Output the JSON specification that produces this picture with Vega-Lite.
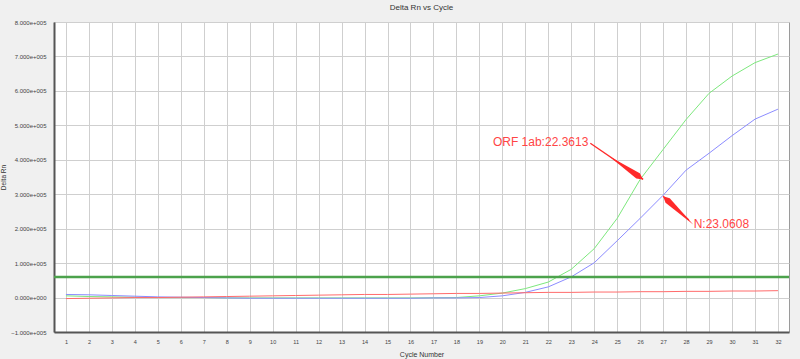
{
  "$schema": "https://vega.github.io/schema/vega-lite/v6.json",
  "width": 735,
  "height": 310,
  "autosize": {"type": "none"},
  "padding": {"left": 54, "top": 22, "right": 11, "bottom": 27},
  "background": "#f0f0f0",
  "title": {"text": "Delta Rn vs Cycle", "fontSize": 8, "font": "Liberation Sans", "fontWeight": "normal", "color": "#333333", "offset": 7, "anchor": "middle"},
  "config": {
    "view": {"fill": "white", "stroke": "#9a9a9a", "strokeWidth": 1},
    "axis": {"gridColor": "#cfcfcf", "gridWidth": 1, "gridOpacity": 1, "ticks": false, "domainColor": "#555555", "domainWidth": 2, "labelFont": "Liberation Sans", "labelColor": "#444444", "titleFont": "Liberation Sans", "titleColor": "#333333", "titleFontWeight": "normal", "labelOverlap": false, "labelFlush": false, "labelBound": false},
    "axisX": {"labelFontSize": 5.5, "labelPadding": 7, "titleFontSize": 7, "titlePadding": 6},
    "axisY": {"labelFontSize": 6, "labelPadding": 8, "titleFontSize": 6.5, "titlePadding": 4}
  },
  "datasets": {
    "curves": [
      {"cycle": 1, "series": "ORF1ab", "rn": 5000}, {"cycle": 2, "series": "ORF1ab", "rn": 3000}, {"cycle": 3, "series": "ORF1ab", "rn": 2000}, {"cycle": 4, "series": "ORF1ab", "rn": 1000},
      {"cycle": 5, "series": "ORF1ab", "rn": 0}, {"cycle": 6, "series": "ORF1ab", "rn": 0}, {"cycle": 7, "series": "ORF1ab", "rn": 0}, {"cycle": 8, "series": "ORF1ab", "rn": -1000},
      {"cycle": 9, "series": "ORF1ab", "rn": -1000}, {"cycle": 10, "series": "ORF1ab", "rn": -1000}, {"cycle": 11, "series": "ORF1ab", "rn": -1000}, {"cycle": 12, "series": "ORF1ab", "rn": -1000},
      {"cycle": 13, "series": "ORF1ab", "rn": -1000}, {"cycle": 14, "series": "ORF1ab", "rn": -1000}, {"cycle": 15, "series": "ORF1ab", "rn": -1000}, {"cycle": 16, "series": "ORF1ab", "rn": -1000},
      {"cycle": 17, "series": "ORF1ab", "rn": -500}, {"cycle": 18, "series": "ORF1ab", "rn": 0}, {"cycle": 19, "series": "ORF1ab", "rn": 5000}, {"cycle": 20, "series": "ORF1ab", "rn": 13000},
      {"cycle": 21, "series": "ORF1ab", "rn": 26000}, {"cycle": 22, "series": "ORF1ab", "rn": 45000}, {"cycle": 23, "series": "ORF1ab", "rn": 82000}, {"cycle": 24, "series": "ORF1ab", "rn": 142000},
      {"cycle": 25, "series": "ORF1ab", "rn": 230000}, {"cycle": 26, "series": "ORF1ab", "rn": 343000}, {"cycle": 27, "series": "ORF1ab", "rn": 430000}, {"cycle": 28, "series": "ORF1ab", "rn": 517000},
      {"cycle": 29, "series": "ORF1ab", "rn": 593000}, {"cycle": 30, "series": "ORF1ab", "rn": 643000}, {"cycle": 31, "series": "ORF1ab", "rn": 682000}, {"cycle": 32, "series": "ORF1ab", "rn": 707000},
      {"cycle": 1, "series": "N", "rn": 9000}, {"cycle": 2, "series": "N", "rn": 8000}, {"cycle": 3, "series": "N", "rn": 6000}, {"cycle": 4, "series": "N", "rn": 4000},
      {"cycle": 5, "series": "N", "rn": 2000}, {"cycle": 6, "series": "N", "rn": 1000}, {"cycle": 7, "series": "N", "rn": 0}, {"cycle": 8, "series": "N", "rn": -1000},
      {"cycle": 9, "series": "N", "rn": -2000}, {"cycle": 10, "series": "N", "rn": -2000}, {"cycle": 11, "series": "N", "rn": -2000}, {"cycle": 12, "series": "N", "rn": -2000},
      {"cycle": 13, "series": "N", "rn": -2000}, {"cycle": 14, "series": "N", "rn": -2000}, {"cycle": 15, "series": "N", "rn": -2000}, {"cycle": 16, "series": "N", "rn": -2000},
      {"cycle": 17, "series": "N", "rn": -1000}, {"cycle": 18, "series": "N", "rn": -1000}, {"cycle": 19, "series": "N", "rn": 0}, {"cycle": 20, "series": "N", "rn": 5000},
      {"cycle": 21, "series": "N", "rn": 15000}, {"cycle": 22, "series": "N", "rn": 31000}, {"cycle": 23, "series": "N", "rn": 60000}, {"cycle": 24, "series": "N", "rn": 101000},
      {"cycle": 25, "series": "N", "rn": 165000}, {"cycle": 26, "series": "N", "rn": 230000}, {"cycle": 27, "series": "N", "rn": 297000}, {"cycle": 28, "series": "N", "rn": 370000},
      {"cycle": 29, "series": "N", "rn": 419000}, {"cycle": 30, "series": "N", "rn": 470000}, {"cycle": 31, "series": "N", "rn": 518000}, {"cycle": 32, "series": "N", "rn": 547000},
      {"cycle": 1, "series": "Ref", "rn": -3000}, {"cycle": 2, "series": "Ref", "rn": -2000}, {"cycle": 3, "series": "Ref", "rn": -1000}, {"cycle": 4, "series": "Ref", "rn": 0},
      {"cycle": 5, "series": "Ref", "rn": 0}, {"cycle": 6, "series": "Ref", "rn": 1000}, {"cycle": 7, "series": "Ref", "rn": 2000}, {"cycle": 8, "series": "Ref", "rn": 3000},
      {"cycle": 9, "series": "Ref", "rn": 4000}, {"cycle": 10, "series": "Ref", "rn": 5000}, {"cycle": 11, "series": "Ref", "rn": 6000}, {"cycle": 12, "series": "Ref", "rn": 7000},
      {"cycle": 13, "series": "Ref", "rn": 8000}, {"cycle": 14, "series": "Ref", "rn": 9000}, {"cycle": 15, "series": "Ref", "rn": 9000}, {"cycle": 16, "series": "Ref", "rn": 10000},
      {"cycle": 17, "series": "Ref", "rn": 11000}, {"cycle": 18, "series": "Ref", "rn": 12000}, {"cycle": 19, "series": "Ref", "rn": 12000}, {"cycle": 20, "series": "Ref", "rn": 13000},
      {"cycle": 21, "series": "Ref", "rn": 14000}, {"cycle": 22, "series": "Ref", "rn": 15000}, {"cycle": 23, "series": "Ref", "rn": 15000}, {"cycle": 24, "series": "Ref", "rn": 16000},
      {"cycle": 25, "series": "Ref", "rn": 16000}, {"cycle": 26, "series": "Ref", "rn": 17000}, {"cycle": 27, "series": "Ref", "rn": 17000}, {"cycle": 28, "series": "Ref", "rn": 18000},
      {"cycle": 29, "series": "Ref", "rn": 18000}, {"cycle": 30, "series": "Ref", "rn": 19000}, {"cycle": 31, "series": "Ref", "rn": 19000}, {"cycle": 32, "series": "Ref", "rn": 20000}
    ],
    "threshold": [{"threshold": 60000}],
    "arrows": [
      {"label": "ORF 1ab:22.3613", "tx": 19.59, "ty": 452000, "x0": 23.83, "y0": 448000, "x1": 26.13, "y1": 343000, "dir": 124.3},
      {"label": "N:23.0608", "tx": 28.33, "ty": 215000, "x0": 28.12, "y0": 225000, "x1": 27.0, "y1": 294000, "dir": 313.2}
    ]
  },
  "layer": [
    {
      "data": {"name": "curves"},
      "mark": {"type": "line", "strokeWidth": 1},
      "encoding": {
        "x": {"field": "cycle", "type": "quantitative", "scale": {"domain": [0.48, 32.48], "nice": false, "zero": false},
          "axis": {"values": [1,2,3,4,5,6,7,8,9,10,11,12,13,14,15,16,17,18,19,20,21,22,23,24,25,26,27,28,29,30,31,32], "title": "Cycle Number"}},
        "y": {"field": "rn", "type": "quantitative", "scale": {"domain": [-100000, 800000], "nice": false, "zero": false},
          "axis": {"values": [-100000, 0, 100000, 200000, 300000, 400000, 500000, 600000, 700000, 800000], "title": "Delta Rn",
            "labelExpr": "replace(replace(format(datum.value, '.3e'), 'e+', 'e+00'), 'e-', 'e-00')"}},
        "color": {"field": "series", "type": "nominal", "scale": {"domain": ["ORF1ab", "N", "Ref"], "range": ["#7de87d", "#8c8cff", "#ff6b6b"]}, "legend": null}
      }
    },
    {
      "data": {"name": "threshold"},
      "mark": {"type": "rule", "color": "#4ca24c", "strokeWidth": 2.5},
      "encoding": {"y": {"field": "threshold", "type": "quantitative",
          "axis": {"values": [-100000, 0, 100000, 200000, 300000, 400000, 500000, 600000, 700000, 800000], "title": "Delta Rn",
            "labelExpr": "replace(replace(format(datum.value, '.3e'), 'e+', 'e+00'), 'e-', 'e-00')"}}}
    },
    {
      "data": {"name": "arrows"},
      "mark": {"type": "rule", "color": "#ff2a2a", "strokeWidth": 1.3},
      "encoding": {
        "x": {"field": "x0", "type": "quantitative", "axis": {"values": [1,2,3,4,5,6,7,8,9,10,11,12,13,14,15,16,17,18,19,20,21,22,23,24,25,26,27,28,29,30,31,32], "title": "Cycle Number"}},
        "y": {"field": "y0", "type": "quantitative", "axis": {"values": [-100000, 0, 100000, 200000, 300000, 400000, 500000, 600000, 700000, 800000], "title": "Delta Rn",
            "labelExpr": "replace(replace(format(datum.value, '.3e'), 'e+', 'e+00'), 'e-', 'e-00')"}},
        "x2": {"field": "x1"}, "y2": {"field": "y1"}
      }
    },
    {
      "data": {"name": "arrows"},
      "mark": {"type": "point", "shape": "M0,0L0.15,0.3L0,2L-0.15,0.3Z", "filled": true, "color": "#ff2a2a", "opacity": 1, "size": 1700},
      "encoding": {
        "x": {"field": "x1", "type": "quantitative", "axis": {"values": [1,2,3,4,5,6,7,8,9,10,11,12,13,14,15,16,17,18,19,20,21,22,23,24,25,26,27,28,29,30,31,32], "title": "Cycle Number"}},
        "y": {"field": "y1", "type": "quantitative", "axis": {"values": [-100000, 0, 100000, 200000, 300000, 400000, 500000, 600000, 700000, 800000], "title": "Delta Rn",
            "labelExpr": "replace(replace(format(datum.value, '.3e'), 'e+', 'e+00'), 'e-', 'e-00')"}},
        "angle": {"field": "dir", "type": "quantitative", "scale": null}
      }
    },
    {
      "data": {"name": "arrows"},
      "mark": {"type": "text", "align": "left", "baseline": "middle", "font": "Liberation Sans", "fontSize": 12, "color": "#ff4545"},
      "encoding": {
        "x": {"field": "tx", "type": "quantitative", "axis": {"values": [1,2,3,4,5,6,7,8,9,10,11,12,13,14,15,16,17,18,19,20,21,22,23,24,25,26,27,28,29,30,31,32], "title": "Cycle Number"}},
        "y": {"field": "ty", "type": "quantitative", "axis": {"values": [-100000, 0, 100000, 200000, 300000, 400000, 500000, 600000, 700000, 800000], "title": "Delta Rn",
            "labelExpr": "replace(replace(format(datum.value, '.3e'), 'e+', 'e+00'), 'e-', 'e-00')"}},
        "text": {"field": "label"}
      }
    }
  ]
}
